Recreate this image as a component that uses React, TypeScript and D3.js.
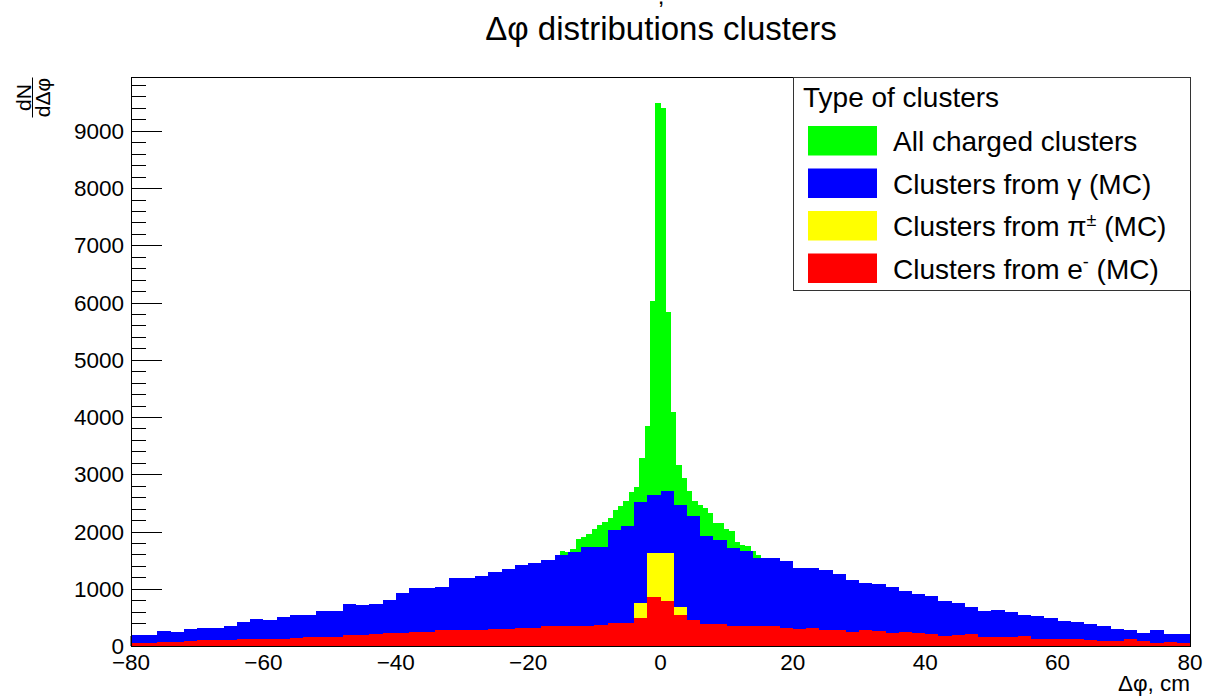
import React from 'react';
import * as d3 from 'd3';

const W = 1212;
const H = 698;

// Histogram binning (Δφ, cm)
const xMin = -80;
const xMax = 80;
const coarseBinWidth = 2;
const greenLo = -16;
const greenBinWidth = 0.8;
const yellowLo = -4;

// Clusters from γ (MC), 80 bins of 2 cm from -80
const blueCounts = [
  189, 184, 259, 236, 300, 306, 323, 358, 423, 463,
  446, 510, 533, 545, 603, 620, 737, 720, 737, 807,
  923, 1017, 1017, 1023, 1180, 1192, 1221, 1297, 1337, 1407,
  1448, 1500, 1582, 1634, 1733, 1733, 2030, 2095, 2514, 2631,
  2701, 2456, 2264, 1914, 1850, 1710, 1652, 1535, 1535, 1483,
  1360, 1366, 1326, 1256, 1145, 1098, 1087, 1034, 958, 906,
  871, 790, 755, 673, 615, 632, 586, 533, 521, 481,
  440, 411, 382, 353, 300, 283, 230, 271, 213, 207,
];

// Clusters from e- (MC), 80 bins of 2 cm from -80
const redCounts = [
  49, 52, 67, 73, 90, 102, 102, 108, 114, 125,
  125, 131, 137, 160, 149, 160, 184, 195, 201, 230,
  224, 253, 253, 277, 277, 288, 271, 300, 294, 318,
  318, 358, 347, 347, 347, 364, 405, 405, 481, 848,
  784, 545, 457, 382, 393, 347, 347, 358, 358, 323,
  294, 306, 277, 288, 242, 271, 259, 224, 242, 224,
  218, 166, 184, 201, 160, 160, 149, 166, 119, 119,
  119, 114, 102, 85, 96, 114, 85, 61, 73, 61,
];

// Clusters from π± (MC), visible bins of 2 cm from -4
const yellowCounts = [743, 1623, 1623, 685];

// All charged clusters, bins of 0.8 cm from -16 to 16
const greenCounts = [
  1560, 1652, 1634, 1698, 1873, 1908, 1960, 2048, 2112, 2171,
  2235, 2369, 2439, 2532, 2689, 2782, 3289, 3843, 6028, 9489,
  9396, 5842, 4082, 3167, 2928, 2715, 2540, 2468, 2404, 2328,
  2150, 2150, 2048, 2001, 1815, 1762, 1750, 1652, 1582, 1520,
];

const xTickValues = [-80, -60, -40, -20, 0, 20, 40, 60, 80];
const yTickValues = [0, 1000, 2000, 3000, 4000, 5000, 6000, 7000, 8000, 9000];
const yMinorStep = 200;
const yMaxValue = 9940;

const legendLabels = [
  'All charged clusters',
  'Clusters from γ (MC)',
  'Clusters from π± (MC)',
  'Clusters from e- (MC)',
];
const legendColors = ['#00ff00', '#0000ff', '#ffff00', '#ff0000'];

const FONT = '"Liberation Sans", Arial, Helvetica, sans-serif';

export default function App() {
  const left = 131;
  const right = 1190;
  const top = 77;
  const bottom = 646;

  const x = d3.scaleLinear().domain([xMin, xMax]).range([left, right]);
  const y = d3.scaleLinear().domain([0, yMaxValue]).range([bottom, top]);

  const hist = (lo: number, w: number, counts: number[]) => {
    const pts = counts.map((v, i) => ({ e: lo + i * w, v }));
    pts.push({ e: lo + counts.length * w, v: counts[counts.length - 1] });
    return d3
      .area<{ e: number; v: number }>()
      .x((d) => x(d.e))
      .y0(y(0))
      .y1((d) => y(d.v))
      .curve(d3.curveStepAfter)(pts) as string;
  };

  const minorY: number[] = [];
  for (let v = 0; v <= yMaxValue; v += yMinorStep) minorY.push(v);

  const fmtX = (v: number) => (v < 0 ? '\u2212' + Math.abs(v) : String(v));

  const legendX = 793;
  const legendTop = 77;
  const legendBottom = 290;
  const entryStep = 42.5;

  const renderLabel = (label: string) => {
    if (label.includes('π±')) {
      return (
        <>
          Clusters from π
          <tspan fontSize={18} dy={-10}>±</tspan>
          <tspan dy={10}> (MC)</tspan>
        </>
      );
    }
    if (label.includes('e-')) {
      return (
        <>
          Clusters from e
          <tspan fontSize={18} dy={-11}>-</tspan>
          <tspan dy={11}> (MC)</tspan>
        </>
      );
    }
    return label;
  };

  return (
    <svg
      width={W}
      height={H}
      style={{ position: 'absolute', left: 0, top: 0, background: '#fff' }}
      fontFamily={FONT}
    >
      <rect x={0} y={0} width={W} height={H} fill="#fff" />

      {/* cut-off text fragment at top */}
      <text x={661} y={4} fontSize={24} textAnchor="middle" fill="#000">,</text>

      {/* title */}
      <text x={661} y={40} fontSize={33} textAnchor="middle" fill="#000">
        Δφ distributions clusters
      </text>

      {/* y ticks (under histograms) */}
      <g stroke="#000" strokeWidth={1}>
        {minorY.map((v) => (
          <line
            key={'m' + v}
            x1={left}
            x2={left + (v % 1000 === 0 ? 31 : 15)}
            y1={Math.round(y(v)) + 0.5}
            y2={Math.round(y(v)) + 0.5}
          />
        ))}
        {xTickValues.map((v) => (
          <line key={'x' + v} x1={x(v)} x2={x(v)} y1={bottom} y2={bottom - 10} />
        ))}
      </g>

      {/* histograms */}
      <g shapeRendering="crispEdges">
        <path d={hist(greenLo, greenBinWidth, greenCounts)} fill="#00ff00" />
        <path d={hist(xMin, coarseBinWidth, blueCounts)} fill="#0000ff" />
        <path d={hist(yellowLo, coarseBinWidth, yellowCounts)} fill="#ffff00" />
        <path d={hist(xMin, coarseBinWidth, redCounts)} fill="#ff0000" />
      </g>

      {/* frame */}
      <rect
        x={left + 0.5}
        y={top + 0.5}
        width={right - left}
        height={bottom - top}
        fill="none"
        stroke="#000"
        strokeWidth={1}
      />

      {/* y tick labels */}
      {yTickValues.map((v) => (
        <text
          key={'yl' + v}
          x={124}
          y={y(v) + 8}
          fontSize={22.5}
          textAnchor="end"
          fill="#000"
        >
          {v}
        </text>
      ))}

      {/* x tick labels */}
      {xTickValues.map((v) => (
        <text key={'xl' + v} x={x(v)} y={670} fontSize={22.5} textAnchor="middle" fill="#000">
          {fmtX(v)}
        </text>
      ))}

      {/* x axis title */}
      <text x={right} y={691} fontSize={22.5} textAnchor="end" fill="#000">
        Δφ, cm
      </text>

      {/* y axis title: dN / dΔφ */}
      <g transform={`translate(32.5, 97.5) rotate(-90)`}>
        <text x={0} y={-2} fontSize={21} textAnchor="middle" fill="#000">dN</text>
        <line x1={-20} x2={20} y1={0} y2={0} stroke="#000" strokeWidth={1} />
        <text x={0} y={17} fontSize={21} textAnchor="middle" fill="#000">dΔφ</text>
      </g>

      {/* legend */}
      <rect
        x={legendX + 0.5}
        y={legendTop + 0.5}
        width={right - legendX}
        height={legendBottom - legendTop}
        fill="#fff"
        stroke="#333"
        strokeWidth={1}
      />
      <text x={803} y={107} fontSize={28} fill="#000">Type of clusters</text>
      {legendLabels.map((label, i) => (
        <g key={label}>
          <rect
            x={808}
            y={126 + i * entryStep}
            width={69}
            height={29.5}
            fill={legendColors[i]}
          />
          <text x={893} y={151 + i * entryStep} fontSize={28} fill="#000">
            {renderLabel(label)}
          </text>
        </g>
      ))}
    </svg>
  );
}
